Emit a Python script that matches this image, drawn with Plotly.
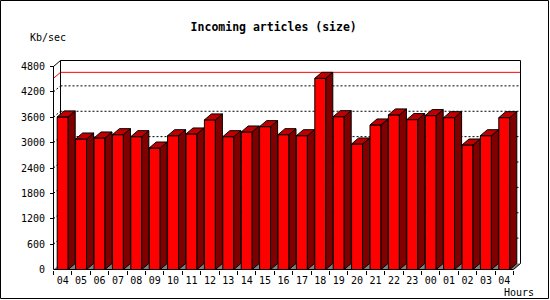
import plotly.graph_objects as go

# ---- data ----
hours = ["04", "05", "06", "07", "08", "09", "10", "11", "12", "13", "14", "15",
         "16", "17", "18", "19", "20", "21", "22", "23", "00", "01", "02", "03", "04"]
values = [3607, 3086, 3110, 3188, 3141, 2873, 3164, 3205, 3537, 3141, 3252, 3378,
          3188, 3164, 4520, 3614, 2968, 3418, 3655, 3544, 3639, 3591, 2944, 3164, 3591]
y_ticks = [0, 600, 1200, 1800, 2400, 3000, 3600, 4200, 4800]
title_text = "Incoming articles (size)"
y_label = "Kb/sec"
x_label = "Hours"

# ---- geometry (pixels) ----
W, H = 550, 300
L, R, T, B = 50, 26, 56, 30
X0PX, UX = 53.5, 18.4          # pixel of x=-0.5, px per category
Y0PX, UY = 269.5, 203 / 4800   # pixel of y=0, px per unit
DXPX, DYPX = 7, 6              # 3D depth offset
DX, DY = DXPX / UX, DYPX / UY
BW = 11 / UX
n = len(values)
x_left, x_right = -0.5, n - 0.5
y_top = y_ticks[-1]

xr = [x_left - (X0PX - L) / UX, x_left + (W - R - X0PX) / UX]
yr = [-(H - B - Y0PX) / UY, (Y0PX - T) / UY]
pw, ph = W - L - R, H - T - B


def pxx(p):
    return (p - L) / pw


def pxy(p):
    return (H - B - p) / ph


FRONT = "#ff0000"
TOP = "#c00000"
SIDE = "#800000"
FLOOR = "#808080"

fig = go.Figure()

# front faces
fig.add_trace(go.Bar(x=list(range(n)), y=values, width=BW,
                     marker=dict(color=FRONT, line=dict(color="black", width=1)),
                     hoverinfo="skip"))

# side faces and top faces
sx, sy, tx, ty = [], [], [], []
for i, v in enumerate(values):
    xl, xrr = i - BW / 2, i + BW / 2
    sx += [xrr, xrr + DX, xrr + DX, xrr, xrr, None]
    sy += [v, v + DY, DY, 0, v, None]
    tx += [xl, xl + DX, xrr + DX, xrr, xl, None]
    ty += [v, v + DY, v + DY, v, v, None]

fig.add_trace(go.Scatter(x=sx, y=sy, mode="lines", fill="toself", fillcolor=SIDE,
                         line=dict(color="black", width=1), hoverinfo="skip"))
fig.add_trace(go.Scatter(x=tx, y=ty, mode="lines", fill="toself", fillcolor=TOP,
                         line=dict(color="black", width=1), hoverinfo="skip"))

shapes = []

# floor (below traces)
shapes.append(dict(type="path", xref="x", yref="y", layer="below",
                   path=f"M {x_left},0 L {x_right},0 L {x_right + DX},{DY} L {x_left + DX},{DY} Z",
                   fillcolor=FLOOR, line=dict(width=0)))


def seg(x0, y0, x1, y1, color="black", dash="solid", layer="below"):
    shapes.append(dict(type="line", xref="x", yref="y", x0=x0, y0=y0, x1=x1, y1=y1,
                       line=dict(color=color, width=1, dash=dash), layer=layer))


# dotted gridlines in back plane
for v in y_ticks[1:-1]:
    seg(x_left, v, x_left + DX, v + DY, dash="2px,2px")
    seg(x_left + DX, v + DY, x_right + DX, v + DY, dash="2px,2px")

# max line
vmax = max(values)
seg(x_left, vmax, x_left + DX, vmax + DY, color="red")
seg(x_left + DX, vmax + DY, x_right + DX, vmax + DY, color="red")

# back frame
seg(x_left + DX, DY, x_left + DX, y_top + DY)
seg(x_left + DX, y_top + DY, x_right + DX, y_top + DY)
seg(x_right + DX, DY, x_right + DX, y_top + DY)
seg(x_left, y_top, x_left + DX, y_top + DY)
seg(x_right, 0, x_right + DX, DY)
# front axes
seg(x_left, 0, x_left, y_top, layer="above")
seg(x_left, 0, x_right, 0, layer="above")

# outer border
shapes.append(dict(type="rect", xref="paper", yref="paper",
                   x0=pxx(0.5), x1=pxx(548.5), y0=pxy(298.5), y1=pxy(0.5),
                   line=dict(color="black", width=1)))

mono = "DejaVu Sans Mono"
fig.update_layout(
    width=W, height=H,
    margin=dict(l=L, r=R, t=T, b=B),
    paper_bgcolor="white", plot_bgcolor="white",
    showlegend=False,
    shapes=shapes,
    title=dict(text="<b>" + title_text + "</b>", x=273.7 / W, xanchor="center",
               y=1 - 26.7 / H, yanchor="middle", xref="container", yref="container",
               font=dict(family=mono, size=11.5, color="black")),
    xaxis=dict(range=xr, tickmode="array", tickvals=list(range(n)), ticktext=hours,
               ticks="outside", ticklen=1, tickcolor="rgba(0,0,0,0)",
               showline=False, showgrid=False, zeroline=False,
               tickfont=dict(family=mono, size=10, color="black"),
               minor=dict(tickmode="array", tickvals=[i - 0.5 for i in range(n + 1)],
                          ticks="outside", ticklen=4, tickcolor="black", tickwidth=1,
                          showgrid=False)),
    yaxis=dict(range=yr, tickmode="array", tickvals=y_ticks,
               ticks="inside", ticklen=4, tickcolor="black", tickwidth=1,
               ticklabelstandoff=4,
               showline=False, showgrid=False, zeroline=False,
               tickfont=dict(family=mono, size=10, color="black")),
    annotations=[
        dict(text=y_label, xref="paper", yref="paper", x=pxx(47.5), y=pxy(37),
             xanchor="center", yanchor="middle", showarrow=False,
             font=dict(family=mono, size=10, color="black")),
        dict(text=x_label, xref="paper", yref="paper", x=pxx(519), y=pxy(292),
             xanchor="center", yanchor="middle", showarrow=False,
             font=dict(family=mono, size=10, color="black")),
    ],
)

fig.write_html("out.html")
